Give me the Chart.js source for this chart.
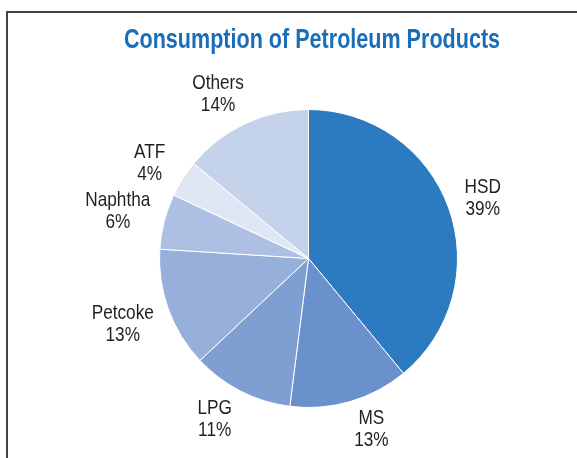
<!DOCTYPE html>
<html>
<head>
<meta charset="utf-8">
<script src="https://cdn.jsdelivr.net/npm/chart.js@4.4.0/dist/chart.umd.min.js"></script>
<style>
  html, body { margin: 0; padding: 0; background: #fff; }
  #wrap { position: relative; width: 577px; height: 458px; overflow: hidden; }
  #frame {
    position: absolute; left: 6px; top: 11px; width: 600px; height: 500px;
    border-left: 2px solid #444; border-top: 2px solid #444;
  }
  #c { position: absolute; left: 0; top: 0; }
</style>
</head>
<body>
<div id="wrap">
  <div id="frame"></div>
  <canvas id="c" width="577" height="458"></canvas>
</div>
<script>
'use strict';

// data
const chartTitle = 'Consumption of Petroleum Products';
const products = ['HSD', 'MS', 'LPG', 'Petcoke', 'Naphtha', 'ATF', 'Others'];
const shares = [39, 13, 11, 13, 6, 4, 14];
const sliceColors = ['#2c7bc1', '#6a91cb', '#7f9fd3', '#97b0db', '#adc0e4', '#e0e7f4', '#c5d3ea'];

const FONT = '"Liberation Sans", Arial, sans-serif';
const NARROW = 0.82;   // condensed look for labels
const NARROW_BOLD = 0.77;

// draw text squeezed horizontally (condensed face)
function drawNarrow(ctx, text, x, y, sx) {
  ctx.save();
  ctx.translate(x, y);
  ctx.scale(sx, 1);
  ctx.fillText(text, 0, 0);
  ctx.restore();
}

// title + outside labels
const pieText = {
  id: 'pieText',
  afterDatasetsDraw(chart) {
    const ctx = chart.ctx;
    const meta = chart.getDatasetMeta(0);
    ctx.save();
    ctx.textAlign = 'center';

    // title
    ctx.font = 'bold 28px ' + FONT;
    ctx.fillStyle = '#1a6db7';
    ctx.textBaseline = 'alphabetic';
    drawNarrow(ctx, chartTitle, 312, 48, NARROW_BOLD);

    // labels
    ctx.font = '21px ' + FONT;
    ctx.fillStyle = '#231f20';
    ctx.textBaseline = 'middle';
    meta.data.forEach(function(arc, i) {
      const mid = (arc.startAngle + arc.endAngle) / 2;
      const lines = [products[i], shares[i] + '%'];
      const w = NARROW * Math.max.apply(null, lines.map(function(t) { return ctx.measureText(t).width; }));
      const h = 30;
      const dx = Math.cos(mid), dy = Math.sin(mid);
      const d = arc.outerRadius + 9 + Math.abs(dx) * w / 2 + Math.abs(dy) * h / 2;
      // nudge labels near top/bottom sideways, away from the vertical axis
      const x = arc.x + dx * d + Math.sign(dx) * 14 * Math.abs(dy);
      const y = arc.y + dy * d;
      drawNarrow(ctx, lines[0], x, y - 10, NARROW);
      drawNarrow(ctx, lines[1], x, y + 12, NARROW);
    });
    ctx.restore();
  }
};

new Chart(document.getElementById('c'), {
  type: 'pie',
  data: {
    labels: products,
    datasets: [{
      data: shares,
      backgroundColor: sliceColors,
      borderColor: '#ffffff',
      borderWidth: 1
    }]
  },
  options: {
    responsive: false,
    animation: false,
    layout: {
      padding: { left: 159, right: 119, top: 109, bottom: 50 }
    },
    plugins: {
      legend: { display: false },
      tooltip: { enabled: false },
      title: { display: false }
    }
  },
  plugins: [pieText]
});
</script>
</body>
</html>
